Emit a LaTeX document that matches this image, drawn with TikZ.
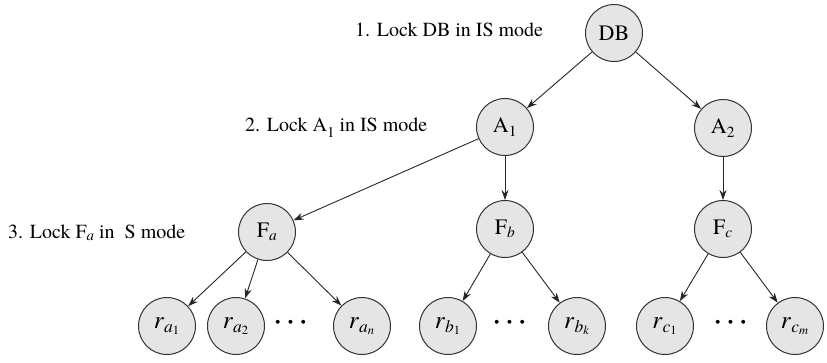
\documentclass[tikz,border=0pt]{standalone}
\usepackage{amsmath}
\usepackage{fontspec}
\setmainfont{texgyretermes-regular.otf}[ItalicFont=texgyretermes-italic.otf,BoldFont=texgyretermes-bold.otf]
\usetikzlibrary{arrows.meta}
\tikzset{
  nd/.style={circle,draw=black!80,line width=1pt,fill=black!10,minimum size=57pt,inner sep=0pt,font=\fontsize{22}{24}\selectfont},
  rnd/.style={nd,font=\fontsize{25}{26}\selectfont},
  lbl/.style={font=\fontsize{20}{22}\selectfont,inner sep=0pt},
  dt/.style={font=\fontsize{32}{32}\selectfont\boldmath,inner sep=0pt},
  arr/.style={draw=black!85,line width=0.9pt,-{Stealth[length=10pt,width=7pt]}}
}
\newcommand{\rsub}[2]{\textit{r}$_{\textit{#1}_{#2}}$}
\begin{document}
\begin{tikzpicture}[x=1pt,y=-1pt]
\useasboundingbox (0,0) rectangle (827,362);
\node[nd] (db) at (614,33) {DB};
\node[nd] (a1) at (505,127) {A$_{\text{1}}$};
\node[nd] (a2) at (723,128) {A$_{\text{2}}$};
\node[nd] (fa) at (267,232) {F$_{\textit{a}}$};
\node[nd] (fb) at (505,229) {F$_{\textit{b}}$};
\node[nd] (fc) at (723,229) {F$_{\textit{c}}$};
\node[rnd] (ra1) at (167,326) {\rsub{a}{\text{1}}};
\node[rnd] (ra2) at (236,326) {\rsub{a}{\text{2}}};
\node[dt] (dotsa) at (293,323) {$\cdots$};
\node[rnd] (ran) at (362,326) {\rsub{a}{\textit{n}}};
\node[rnd] (rb1) at (448,326) {\rsub{b}{\text{1}}};
\node[dt] (dotsb) at (512,323) {$\cdots$};
\node[rnd] (rbk) at (577,326) {\rsub{b}{\textit{k}}};
\node[rnd] (rc1) at (665,326) {\rsub{c}{\text{1}}};
\node[dt] (dotsc) at (733,323) {$\cdots$};
\node[rnd] (rcm) at (795,326) {\rsub{c}{\textit{m}}};
\node[lbl,anchor=west] (l1) at (355,30) {1. Lock DB in IS mode};
\node[lbl,anchor=west] (l2) at (245,128) {2. Lock A\raisebox{-6pt}{\fontsize{15}{15}\selectfont 1} in IS mode};
\node[lbl,anchor=west] (l3) at (8,233) {3. Lock F\raisebox{-2pt}{\fontsize{15}{15}\selectfont\textit{a}} in~ S mode};
\draw[arr] (db) -- (a1);
\draw[arr] (db) -- (a2);
\draw[arr] (a1) -- (fa);
\draw[arr] (a1) -- (fb);
\draw[arr] (a2) -- (fc);
\draw[arr] (fa) -- (ra1);
\draw[arr] (fa) -- (ra2);
\draw[arr] (fa) -- (ran);
\draw[arr] (fb) -- (rb1);
\draw[arr] (fb) -- (rbk);
\draw[arr] (fc) -- (rc1);
\draw[arr] (fc) -- (rcm);
\end{tikzpicture}
\end{document}
